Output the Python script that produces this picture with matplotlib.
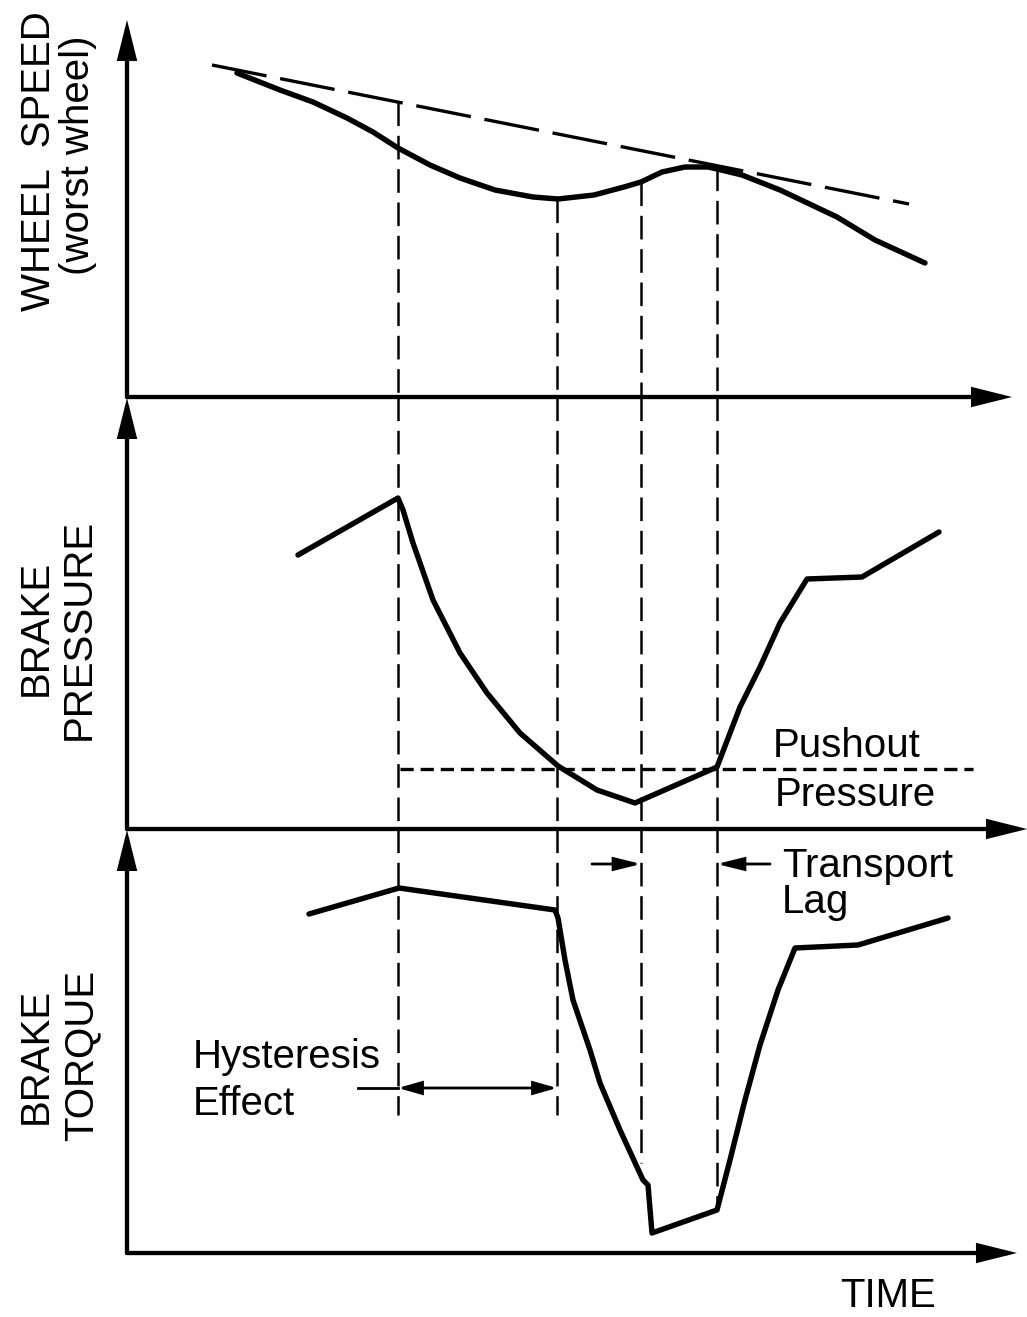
import numpy as np
import matplotlib
matplotlib.use("Agg")
import matplotlib.pyplot as plt

plt.rcParams["font.family"] = ["Liberation Sans", "DejaVu Sans"]
plt.rcParams["lines.scale_dashes"] = False

# --- data: time on x, each trace measured up from its own time axis ---
speed_t = [110, 153, 186, 220, 246, 271, 303, 333, 368, 406, 431, 467, 497,
           514, 535, 558, 581, 590, 615, 653, 710, 748, 798]
speed_v = [324, 307, 295, 279, 265, 249, 232, 219, 207, 200, 198, 202, 210,
           215, 225, 230, 230, 228, 222, 207, 180, 157, 134]

# vehicle (reference) speed line
ref_t = [85, 782]
ref_v = [332, 193]

pressure_t = [171, 271, 276, 286, 306, 333, 360, 393, 431, 470, 508, 590,
              613, 633, 653, 680, 735, 812]
pressure_v = [274, 331, 319, 286, 229, 176, 136, 96, 63, 39, 26, 62,
              122, 162, 206, 250, 252, 297]

pushout_t = [273, 846]
pushout_v = 60

torque_t = [182, 272, 428, 431, 438, 446, 463, 473, 493, 516, 521, 525, 590,
            603, 618, 633, 651, 668, 731, 821]
torque_v = [339, 365, 343, 335, 293, 253, 203, 170, 123, 73, 68, 20, 43,
            93, 153, 208, 263, 305, 308, 335]

# event times and how far each guide reaches in the top / bottom panels
event_t = [271, 430, 514, 590]
event_top = [295, 198, 215, 230]
event_bottom = [138, 138, 90, 43]

hysteresis_t = [231, 271, 430]
hysteresis_v = 165
lag_t = [465, 514, 590, 643]
lag_v = 389

# --- layout (pixels) ---
W, H = 1027, 1317
X0 = 127
T_MAX = 900
FS = 29

fig = plt.figure(figsize=(W / 100, H / 100), dpi=100)


def panel(base, top):
    ax = fig.add_axes([X0 / W, 1 - base / H, T_MAX / W, (base - top) / H])
    ax.set_xlim(0, T_MAX)
    ax.set_ylim(0, base - top)
    ax.axis("off")
    return ax


def arrow(ax, start, end, lw=3.1, scale=36, style="-|>", hl=0.6, hw=0.15):
    ax.annotate("", xy=end, xytext=start, annotation_clip=False,
                arrowprops=dict(arrowstyle=f"{style},head_length={hl},head_width={hw}",
                                lw=lw, color="black", shrinkA=0, shrinkB=0,
                                mutation_scale=scale, joinstyle="miter"))


def axes_arrows(ax, x_tip, y_tip):
    arrow(ax, (0, 0), (x_tip, 0))
    arrow(ax, (0, 0), (0, y_tip))


def curve(ax, t, v):
    ax.plot(t, v, color="black", lw=3.9, solid_capstyle="round",
            solid_joinstyle="round", clip_on=False, zorder=3)


def guide(ax, t, lo, hi):
    ax.plot([t, t], [hi, lo], color="black", lw=1.8, dashes=(17, 7),
            clip_on=False, zorder=2)


def ylabel(ax, x, y, s):
    ax.text(x, y, s, rotation=90, rotation_mode="anchor", ha="center",
            va="baseline", fontsize=FS, clip_on=False)


ax_top = panel(397, 20)
ax_mid = panel(829, 397)
ax_bot = panel(1253, 829)

# wheel speed
axes_arrows(ax_top, 885, 377)
curve(ax_top, speed_t, speed_v)
ax_top.plot(ref_t, ref_v, color="black", lw=2.4, dashes=(40, 10), clip_on=False)
for t, hi in zip(event_t, event_top):
    guide(ax_top, t, 0, hi)
ylabel(ax_top, -77, 236, "WHEEL  SPEED")
ylabel(ax_top, -38, 242, "(worst wheel)")

# brake pressure
axes_arrows(ax_mid, 900, 431)
curve(ax_mid, pressure_t, pressure_v)
ax_mid.plot(pushout_t, [pushout_v] * 2, color="black", lw=2.4, dashes=(9.5, 5),
            clip_on=False)
for t in event_t:
    guide(ax_mid, t, 0, 432)
ylabel(ax_mid, -80, 201, "BRAKE")
ylabel(ax_mid, -37, 200, "PRESSURE")
ax_mid.text(646, 72, "Pushout", fontsize=FS, ha="left", va="baseline")
ax_mid.text(648, 23, "Pressure", fontsize=FS, ha="left", va="baseline")

# brake torque
axes_arrows(ax_bot, 890, 423)
curve(ax_bot, torque_t, torque_v)
for t, lo in zip(event_t, event_bottom):
    guide(ax_bot, t, lo, 424)
ylabel(ax_bot, -80, 197, "BRAKE")
ylabel(ax_bot, -35, 198, "TORQUE")

# hysteresis effect dimension
ax_bot.plot(hysteresis_t[:2], [hysteresis_v] * 2, color="black", lw=2.0,
            clip_on=False)
arrow(ax_bot, (hysteresis_t[1], hysteresis_v), (hysteresis_t[2], hysteresis_v),
      lw=2.0, scale=20, style="<|-|>", hl=0.7, hw=0.2)
ax_bot.text(66, 185, "Hysteresis", fontsize=FS, ha="left", va="baseline")
ax_bot.text(66, 138, "Effect", fontsize=FS, ha="left", va="baseline")

# transport lag dimension
arrow(ax_bot, (lag_t[0], lag_v), (lag_t[1], lag_v), lw=2.0, scale=20, hl=0.8, hw=0.2)
arrow(ax_bot, (lag_t[3], lag_v), (lag_t[2], lag_v), lw=2.0, scale=20, hl=0.8, hw=0.2)
ax_bot.text(655, 376, "Transport", fontsize=FS, ha="left", va="baseline")
ax_bot.text(655, 340, "Lag", fontsize=FS, ha="left", va="baseline")

ax_bot.text(713, -54, "TIME", fontsize=FS, ha="left", va="baseline")

fig.savefig("out.png", dpi=100, facecolor="white")
